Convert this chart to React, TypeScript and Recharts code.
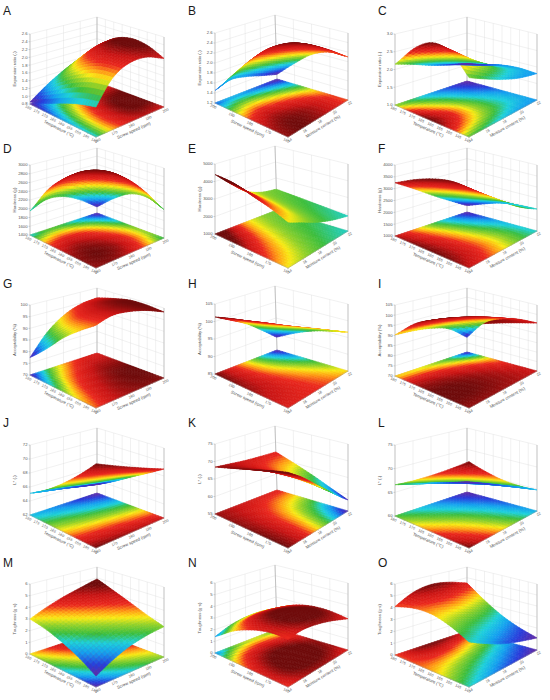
import { ScatterChart, Scatter, XAxis, YAxis } from "recharts";

// ---- factor ticks ----
const temperatureTicks = [140, 145, 150, 155, 160, 165, 170, 175, 180];
const screwSpeedTicks = [160, 170, 180, 190, 200];
const moistureTicks = [14, 16, 18, 20, 22];

const temperatureTitle = "Temperature (°C)";
const screwSpeedTitle = "Screw speed (rpm)";
const moistureTitle = "Moisture content (%)";

// response titles, one per row
const responseTitles = ["Expansion ratio (-)", "Hardness (g)", "Acceptability (%)", "L* (-)", "Toughness (g·s)"];

// response axis ticks, one per panel
const zTicksA = [0.8, 1.0, 1.2, 1.4, 1.6, 1.8, 2.0, 2.2, 2.4, 2.6];
const zTicksB = [1.2, 1.4, 1.6, 1.8, 2.0, 2.2, 2.4, 2.6];
const zTicksC = [1.0, 1.5, 2.0, 2.5, 3.0];
const zTicksD = [1400, 1600, 1800, 2000, 2200, 2400, 2600, 2800, 3000];
const zTicksE = [1000, 2000, 3000, 4000, 5000];
const zTicksF = [1000, 1500, 2000, 2500, 3000, 3500, 4000];
const zTicksG = [70, 75, 80, 85, 90, 95, 100];
const zTicksH = [85, 90, 95, 100, 105];
const zTicksI = [70, 75, 80, 85, 90, 95, 100, 105];
const zTicksJ = [62, 64, 66, 68, 70, 72];
const zTicksK = [55, 60, 65, 70, 75];
const zTicksL = [60, 65, 70, 75];
const zTicksM = [0, 1, 2, 3, 4, 5, 6];
const zTicksN = [0, 1, 2, 3, 4, 5, 6];
const zTicksO = [0, 1, 2, 3, 4, 5, 6];

// response surfaces:
// rows = left-axis factor (front corner -> left corner), columns = right-axis factor (front corner -> right corner)
const surfaceA = [
  [1.3, 1.75, 2.0, 2.1, 2.05],
  [1.25, 1.75, 2.05, 2.25, 2.25],
  [1.15, 1.65, 2.0, 2.25, 2.3],
  [1.0, 1.45, 1.8, 2.05, 2.15],
  [0.85, 1.15, 1.4, 1.6, 1.75],
];
const surfaceB = [
  [2.35, 2.4, 2.35, 2.25, 2.1],
  [2.3, 2.38, 2.35, 2.25, 2.1],
  [2.15, 2.25, 2.2, 2.1, 1.95],
  [1.85, 1.95, 1.9, 1.8, 1.65],
  [1.45, 1.55, 1.5, 1.4, 1.3],
];
const surfaceC = [
  [2.1, 2.0, 1.9, 1.82, 1.8],
  [2.55, 2.35, 2.15, 1.97, 1.83],
  [2.75, 2.5, 2.2, 1.95, 1.78],
  [2.6, 2.3, 2.05, 1.82, 1.65],
  [2.15, 2.0, 1.82, 1.68, 1.55],
];
const surfaceD = [
  [2780, 2800, 2700, 2450, 2050],
  [2800, 2850, 2780, 2550, 2200],
  [2700, 2780, 2700, 2480, 2150],
  [2450, 2550, 2480, 2250, 1900],
  [1950, 2100, 2050, 1850, 1550],
];
const surfaceE = [
  [2700, 2500, 2250, 2050, 1900],
  [3100, 2750, 2400, 2150, 2000],
  [3500, 3000, 2550, 2250, 2100],
  [4000, 3300, 2700, 2350, 2200],
  [4400, 3600, 2850, 2450, 2300],
];
const surfaceF = [
  [3220, 2950, 2650, 2300, 2000],
  [3400, 3100, 2750, 2350, 1950],
  [3450, 3100, 2700, 2250, 1850],
  [3400, 3000, 2550, 2050, 1600],
  [3250, 2800, 2300, 1800, 1300],
];
const surfaceG = [
  [93, 96, 97.5, 98.3, 98.3],
  [91, 95, 97.5, 98.8, 99],
  [88, 93.5, 96.5, 98.5, 99],
  [83, 90.5, 94.5, 97, 97.5],
  [77.5, 86, 91.5, 94.5, 95.5],
];
const surfaceH = [
  [99, 98.8, 98.5, 97.8, 96.6],
  [99.8, 99.2, 98.4, 97.2, 95.5],
  [100.5, 99.5, 98, 96.2, 94],
  [101, 99.3, 97.2, 94.7, 91.8],
  [101.3, 99, 96.5, 93, 89],
];
const surfaceI = [
  [97, 97, 96.8, 96.3, 95.5],
  [98, 98, 97.5, 96.5, 95],
  [98, 97.8, 97, 95.5, 93],
  [96, 95.5, 94.2, 92, 88.5],
  [90.3, 89.8, 88.5, 85.5, 78],
];
const surfaceJ = [
  [69.8, 69.6, 69.4, 69.2, 69.0],
  [68.6, 68.4, 68.2, 67.9, 67.6],
  [67.4, 67.1, 66.8, 66.5, 66.2],
  [66.2, 65.9, 65.5, 65.1, 64.7],
  [65.1, 64.7, 64.3, 63.8, 63.3],
];
const surfaceK = [
  [69, 67.5, 65, 62, 58.3],
  [69, 67.6, 65.5, 63, 60.5],
  [68.8, 67.6, 65.9, 64.2, 62.8],
  [68.6, 67.7, 66.6, 65.6, 64.9],
  [68.4, 67.9, 67.4, 67.1, 66.9],
];
const surfaceL = [
  [72, 70.3, 68.5, 66.7, 64.8],
  [70.8, 69.3, 67.7, 66, 64.3],
  [69.5, 68.2, 66.8, 65.3, 63.7],
  [68.1, 66.9, 65.7, 64.4, 63.1],
  [66.6, 65.6, 64.6, 63.5, 62.4],
];
const surfaceM = [
  [0.6, 1.2, 1.75, 2.2, 2.6],
  [1.25, 1.9, 2.4, 2.8, 3.1],
  [1.85, 2.5, 3.0, 3.4, 3.7],
  [2.45, 3.05, 3.6, 4.0, 4.3],
  [3.0, 3.6, 4.1, 4.5, 4.9],
];
const surfaceN = [
  [2.65, 2.95, 3.05, 3.0, 2.8],
  [2.8, 3.15, 3.3, 3.25, 3.05],
  [2.7, 3.1, 3.3, 3.25, 3.05],
  [2.3, 2.75, 2.95, 2.9, 2.7],
  [1.4, 1.9, 2.15, 2.15, 1.95],
];
const surfaceO = [
  [2.5, 2.1, 1.7, 1.4, 1.1],
  [3.2, 2.8, 2.4, 2.0, 1.6],
  [3.8, 3.5, 3.2, 2.8, 2.3],
  [4.1, 4.3, 4.2, 3.8, 3.3],
  [4.1, 4.9, 5.2, 5.0, 4.5],
];

// colour scale limits where the plot's colours do not span the whole surface
const colorRangeA = [0.85, 2.25];
const colorRangeE = [900, 3900];
const colorRangeM = [0.6, 4.6];
const colorRangeN = [1.0, 3.2];

const panelLetters = ["A", "B", "C", "D", "E", "F", "G", "H", "I", "J", "K", "L", "M", "N", "O"];
const panelSurfaces = [surfaceA, surfaceB, surfaceC, surfaceD, surfaceE, surfaceF, surfaceG, surfaceH, surfaceI, surfaceJ, surfaceK, surfaceL, surfaceM, surfaceN, surfaceO];
const panelZTicks = [zTicksA, zTicksB, zTicksC, zTicksD, zTicksE, zTicksF, zTicksG, zTicksH, zTicksI, zTicksJ, zTicksK, zTicksL, zTicksM, zTicksN, zTicksO];
const panelColorRanges: (number[] | null)[] = [colorRangeA, null, null, null, colorRangeE, null, null, null, null, null, null, null, colorRangeM, colorRangeN, null];

// ---- layout ----
type Pt = [number, number];
type Box = { f0: Pt; l0: Pt; r0: Pt; b0: Pt; ft: Pt; lt: Pt; rt: Pt; bt: Pt };

const W = 185;
const H = 140;
const KX = 1; // pixels per x unit (plot width / domain)
const KY = 1;
const colX = [0, 185, 365];
const rowY = [9, 140, 280, 420, 559];
const letterX = [3, 188, 378];
const letterY = [15, 153, 288, 427, 567];
const FONT = "Liberation Sans, Arial, sans-serif";

// perspective box: the near (front) vertical is much longer than the far ones
const boxes: Box[] = [
  { f0: [96, 128], l0: [30, 95], r0: [164, 98], b0: [97, 73], ft: [96, 20], lt: [30, 25], rt: [164, 28], bt: [97, 8] },
  { f0: [103, 128], l0: [30, 94], r0: [163, 91], b0: [92, 70], ft: [103, 20], lt: [30, 24], rt: [163, 24], bt: [90, 6] },
  { f0: [104, 128], l0: [30, 96], r0: [172, 91], b0: [102, 72], ft: [104, 20], lt: [30, 25], rt: [172, 25], bt: [102, 8] },
];
const columnFactors = [
  { uTicks: temperatureTicks, uTitle: temperatureTitle, vTicks: screwSpeedTicks, vTitle: screwSpeedTitle },
  { uTicks: screwSpeedTicks, uTitle: screwSpeedTitle, vTicks: moistureTicks, vTitle: moistureTitle },
  { uTicks: temperatureTicks, uTitle: temperatureTitle, vTicks: moistureTicks, vTitle: moistureTitle },
];
// panels whose surface is seen from underneath (far side drawn over near side)
const seenFromBelow = new Set(["B", "C", "D", "F", "H", "I", "J", "L"]);

function project(b: Box, u: number, v: number, w: number): Pt {
  const a = (1 - u) * (1 - v), l = u * (1 - v), r = (1 - u) * v, d = u * v;
  const x0 = a * b.f0[0] + l * b.l0[0] + r * b.r0[0] + d * b.b0[0];
  const y0 = a * b.f0[1] + l * b.l0[1] + r * b.r0[1] + d * b.b0[1];
  const x1 = a * b.ft[0] + l * b.lt[0] + r * b.rt[0] + d * b.bt[0];
  const y1 = a * b.ft[1] + l * b.lt[1] + r * b.rt[1] + d * b.bt[1];
  return [x0 + (x1 - x0) * w, y0 + (y1 - y0) * w];
}

const STOPS: number[][] = [
  [0.0, 100, 40, 160],
  [0.1, 40, 60, 220],
  [0.22, 20, 160, 240],
  [0.32, 30, 210, 220],
  [0.42, 60, 190, 60],
  [0.52, 150, 210, 40],
  [0.6, 250, 235, 20],
  [0.68, 255, 150, 20],
  [0.76, 235, 40, 30],
  [0.88, 200, 20, 20],
  [1.0, 110, 10, 10],
];
function colorAt(t: number) {
  const x = Math.max(0, Math.min(1, t));
  for (let i = 1; i < STOPS.length; i++) {
    if (x <= STOPS[i][0]) {
      const a = STOPS[i - 1], b = STOPS[i];
      const f = (x - a[0]) / (b[0] - a[0]);
      const c = [1, 2, 3].map((k) => Math.round(a[k] + (b[k] - a[k]) * f));
      return `rgb(${c[0]},${c[1]},${c[2]})`;
    }
  }
  return "rgb(110,10,10)";
}

function gv(g: number[][], i: number, j: number): number {
  const n = g.length - 1, m = g[0].length - 1;
  if (i < 0) return 2 * gv(g, 0, j) - gv(g, 1, j);
  if (i > n) return 2 * gv(g, n, j) - gv(g, n - 1, j);
  if (j < 0) return 2 * gv(g, i, 0) - gv(g, i, 1);
  if (j > m) return 2 * gv(g, i, m) - gv(g, i, m - 1);
  return g[i][j];
}
function cr(p0: number, p1: number, p2: number, p3: number, t: number) {
  return 0.5 * (2 * p1 + (-p0 + p2) * t + (2 * p0 - 5 * p1 + 4 * p2 - p3) * t * t + (-p0 + 3 * p1 - 3 * p2 + p3) * t * t * t);
}
// smooth (Catmull-Rom) reading of the surface grid between its read values
function sampleSurface(g: number[][], u: number, v: number) {
  const n = g.length - 1, m = g[0].length - 1;
  const s = u * n, t = v * m;
  const i = Math.min(Math.floor(s), n - 1), j = Math.min(Math.floor(t), m - 1);
  const fs = s - i, ft = t - j;
  const rows = [-1, 0, 1, 2].map((di) => cr(gv(g, i + di, j - 1), gv(g, i + di, j), gv(g, i + di, j + 1), gv(g, i + di, j + 2), ft));
  return cr(rows[0], rows[1], rows[2], rows[3], fs);
}

const STEPS = 24;

function seg(a: Pt, b: Pt, stroke: string, sw: number) {
  return { x: a[0], y: a[1], x2: b[0], y2: b[1], stroke, sw };
}
function label(p: Pt, text: string, size: number, anchor: string, rot = 0, color = "#555") {
  return { x: p[0], y: p[1], text, size, anchor, rot, color };
}
function fmt(ticks: number[], t: number) {
  return ticks.some((k) => !Number.isInteger(k)) ? t.toFixed(1) : String(t);
}

function buildPanel(idx: number) {
  const col = idx % 3, row = Math.floor(idx / 3);
  const box = boxes[col];
  const { uTicks, uTitle, vTicks, vTitle } = columnFactors[col];
  const g = panelSurfaces[idx];
  const zt = panelZTicks[idx];
  const zMin = zt[0], zMax = zt[zt.length - 1];
  const flat = g.flat();
  const cr0 = panelColorRanges[idx] ?? [Math.min(...flat), Math.max(...flat)];
  const frac = (ticks: number[], t: number) => (t - ticks[0]) / (ticks[ticks.length - 1] - ticks[0]);

  // walls + box
  const walls: any[] = [];
  const gridC = "#dcdcdc", edgeC = "#9a9a9a";
  zt.forEach((z) => {
    const w = frac(zt, z);
    walls.push(seg(project(box, 1, 0, w), project(box, 1, 1, w), gridC, 0.4));
    walls.push(seg(project(box, 1, 1, w), project(box, 0, 1, w), gridC, 0.4));
  });
  vTicks.forEach((t) => {
    const v = frac(vTicks, t);
    walls.push(seg(project(box, 1, v, 0), project(box, 1, v, 1), gridC, 0.4));
  });
  uTicks.forEach((t) => {
    const u = frac(uTicks, t);
    walls.push(seg(project(box, u, 1, 0), project(box, u, 1, 1), gridC, 0.4));
  });
  walls.push(seg(project(box, 1, 0, 0), project(box, 1, 0, 1), edgeC, 0.5));
  walls.push(seg(project(box, 1, 1, 0), project(box, 1, 1, 1), edgeC, 0.5));
  walls.push(seg(project(box, 0, 1, 0), project(box, 0, 1, 1), edgeC, 0.5));

  // floor contour + surface patches
  const vals: number[][] = [];
  for (let a = 0; a <= STEPS; a++) {
    vals.push([]);
    for (let b = 0; b <= STEPS; b++) vals[a].push(sampleSurface(g, a / STEPS, b / STEPS));
  }
  const floor: any[] = [];
  const surface: any[] = [];
  for (let a = 0; a < STEPS; a++) {
    for (let b = 0; b < STEPS; b++) {
      const cs: Pt[] = [[a, b], [a + 1, b], [a + 1, b + 1], [a, b + 1]];
      const zs = cs.map(([p, q]) => vals[p][q]);
      const mean = (zs[0] + zs[1] + zs[2] + zs[3]) / 4;
      const fill = colorAt((mean - cr0[0]) / (cr0[1] - cr0[0]));
      const fp = cs.map(([p, q]) => project(box, p / STEPS, q / STEPS, 0));
      const sp = cs.map(([p, q], k) => project(box, p / STEPS, q / STEPS, (zs[k] - zMin) / (zMax - zMin)));
      floor.push({ x: fp[0][0], y: fp[0][1], pts: fp, fill });
      surface.push({ x: sp[0][0], y: sp[0][1], pts: sp, fill, depth: a + b });
    }
  }
  const below = seenFromBelow.has(panelLetters[idx]);
  surface.sort((p, q) => (below ? p.depth - q.depth : q.depth - p.depth));

  // floor overlay grid and front axes
  const floorGrid: any[] = [];
  const fgC = "rgba(0,0,0,0.06)";
  uTicks.forEach((t) => {
    const u = frac(uTicks, t);
    floorGrid.push(seg(project(box, u, 0, 0), project(box, u, 1, 0), fgC, 0.3));
  });
  vTicks.forEach((t) => {
    const v = frac(vTicks, t);
    floorGrid.push(seg(project(box, 0, v, 0), project(box, 1, v, 0), fgC, 0.3));
  });
  floorGrid.push(seg(project(box, 0, 0, 0), project(box, 1, 0, 0), edgeC, 0.4));
  floorGrid.push(seg(project(box, 0, 0, 0), project(box, 0, 1, 0), edgeC, 0.4));

  // labels
  const labels: any[] = [];
  const F0 = project(box, 0, 0, 0), L0 = project(box, 1, 0, 0), R0 = project(box, 0, 1, 0);
  const angL = (Math.atan2(F0[1] - L0[1], F0[0] - L0[0]) * 180) / Math.PI;
  const angR = (Math.atan2(R0[1] - F0[1], R0[0] - F0[0]) * 180) / Math.PI;
  const nL = [-Math.sin((angL * Math.PI) / 180), Math.cos((angL * Math.PI) / 180)];
  const nR = [-Math.sin((angR * Math.PI) / 180), Math.cos((angR * Math.PI) / 180)];
  const off = (p: Pt, n: number[], d: number): Pt => [p[0] + n[0] * d, p[1] + n[1] * d];
  zt.forEach((z) => {
    const p = project(box, 1, 0, frac(zt, z));
    labels.push(label([p[0] - 2.5, p[1] + 0.3], fmt(zt, z), 4.2, "end"));
    floorGrid.push(seg(p, [p[0] - 1.5, p[1]], edgeC, 0.4));
  });
  const zMid = project(box, 1, 0, 0.5);
  labels.push(label([zMid[0] - 15, zMid[1]], responseTitles[row], 4.3, "middle", -90));
  uTicks.forEach((t) => {
    const p = project(box, frac(uTicks, t), 0, 0);
    floorGrid.push(seg(p, off(p, nL, 1.5), edgeC, 0.4));
    labels.push(label(off(p, nL, 4), fmt(uTicks, t), 3.7, "middle", angL));
  });
  labels.push(label(off(project(box, 0.5, 0, 0), nL, 9.5), uTitle, 4.3, "middle", angL));
  vTicks.forEach((t) => {
    const p = project(box, 0, frac(vTicks, t), 0);
    floorGrid.push(seg(p, off(p, nR, 1.5), edgeC, 0.4));
    labels.push(label(off(p, nR, 4), fmt(vTicks, t), 3.7, "middle", angR));
  });
  labels.push(label(off(project(box, 0, 0.5, 0), nR, 9.5), vTitle, 4.3, "middle", angR));

  return { walls, floor, floorGrid, surface, labels, left: colX[col], top: rowY[row] };
}

const PolyShape = (props: any) => {
  const { cx, cy, payload } = props;
  if (cx == null || cy == null) return <g />;
  const d =
    payload.pts
      .map((p: Pt, i: number) => `${i ? "L" : "M"}${(cx + (p[0] - payload.x) * KX).toFixed(2)},${(cy + (p[1] - payload.y) * KY).toFixed(2)}`)
      .join("") + "Z";
  return <path d={d} fill={payload.fill} stroke={payload.fill} strokeWidth={0.6} strokeLinejoin="round" />;
};

const SegShape = (props: any) => {
  const { cx, cy, payload: p } = props;
  if (cx == null || cy == null) return <g />;
  return <line x1={cx} y1={cy} x2={cx + (p.x2 - p.x) * KX} y2={cy + (p.y2 - p.y) * KY} stroke={p.stroke} strokeWidth={p.sw} />;
};

const TextShape = (props: any) => {
  const { cx, cy, payload: p } = props;
  if (cx == null || cy == null) return <g />;
  return (
    <text
      x={cx}
      y={cy}
      fontSize={p.size}
      fill={p.color}
      textAnchor={p.anchor}
      dominantBaseline="middle"
      fontFamily={FONT}
      transform={p.rot ? `rotate(${p.rot.toFixed(1)} ${cx} ${cy})` : undefined}
    >
      {p.text}
    </text>
  );
};

const panels = panelLetters.map((_, i) => buildPanel(i));

function SurfacePanel({ p }: { p: ReturnType<typeof buildPanel> }) {
  return (
    <div style={{ position: "absolute", left: p.left, top: p.top, width: W, height: H }}>
      <ScatterChart width={W} height={H} margin={{ top: 0, right: 0, bottom: 0, left: 0 }}>
        <XAxis type="number" dataKey="x" domain={[0, W]} allowDataOverflow hide />
        <YAxis type="number" dataKey="y" domain={[0, H]} allowDataOverflow reversed hide />
        <Scatter data={p.walls} shape={SegShape} isAnimationActive={false} />
        <Scatter data={p.floor} shape={PolyShape} isAnimationActive={false} />
        <Scatter data={p.floorGrid} shape={SegShape} isAnimationActive={false} />
        <Scatter data={p.surface} shape={PolyShape} isAnimationActive={false} />
        <Scatter data={p.labels} shape={TextShape} isAnimationActive={false} />
      </ScatterChart>
    </div>
  );
}

export default function App() {
  return (
    <div style={{ position: "absolute", left: 0, top: 0, width: 550, height: 700, background: "#fff", overflow: "hidden" }}>
      {panels.map((p, i) => (
        <SurfacePanel key={panelLetters[i]} p={p} />
      ))}
      <svg width={550} height={700} style={{ position: "absolute", left: 0, top: 0, pointerEvents: "none" }}>
        {panelLetters.map((l, i) => (
          <text key={l} x={letterX[i % 3]} y={letterY[Math.floor(i / 3)]} fontSize={12} fontFamily={FONT} fill="#1a1a1a">
            {l}
          </text>
        ))}
      </svg>
    </div>
  );
}
